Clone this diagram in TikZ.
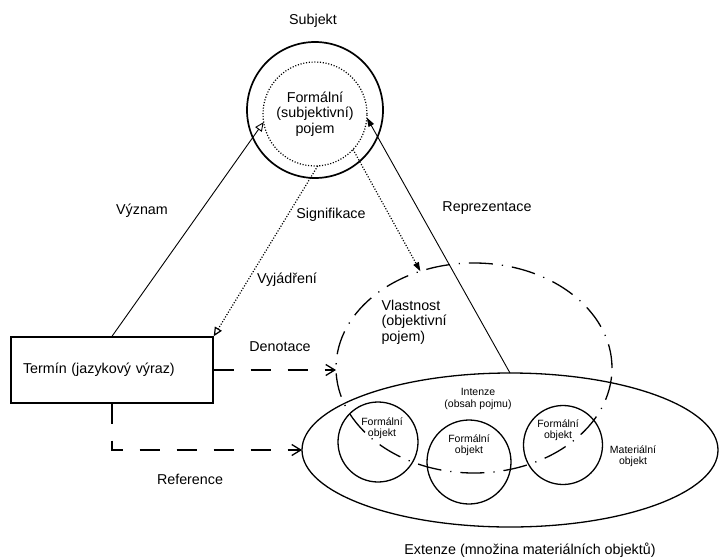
\documentclass[tikz,border=0pt]{standalone}
\usepackage{fontspec}
\setmainfont{Liberation Sans}
\usetikzlibrary{shapes.geometric, arrows.meta, positioning}

\begin{document}
\begin{tikzpicture}[x=1pt, y=-1pt,
    every node/.style={font=\fontsize{14.3}{15.5}\selectfont},
    small/.style={font=\fontsize{10.5}{11.5}\selectfont, align=center},
    ring/.style={draw, circle, inner sep=0pt, outer sep=0pt, line width=1.3pt},
    oval/.style={draw, ellipse, inner sep=0pt, outer sep=0pt},
    term/.style={draw, rectangle, line width=1.4pt, minimum width=202pt, minimum height=66pt, text width=178pt, align=left},
    dots/.style={line width=1.2pt, dash pattern=on 1.1pt off 1.7pt},
    dashline/.style={line width=1.3pt, dash pattern=on 20pt off 17pt},
    dashdot/.style={line width=1.3pt, dash pattern=on 24pt off 9pt on 1.2pt off 9pt},
    open/.style={-{Triangle[open, length=9pt, width=8pt]}},
    full/.style={-{Triangle[length=9pt, width=6pt]}},
    barb/.style={-{Straight Barb[length=9pt, width=11pt]}}]

    \useasboundingbox (0,0) rectangle (719,557);

    % subjekt
    \node (subjlbl) at (313,21) {Subjekt};
    \node[ring, line width=1.7pt, minimum size=136pt] (subj) at (315,110) {};
    \node[draw, circle, dots, minimum size=104pt, inner sep=0pt, outer sep=0pt, align=center] (formal) at (315,114) {Formální\\(subjektivní)\\pojem};

    % termin
    \node[term] (term) at (112,370) {Termín (jazykový výraz)};

    % extenze a vlastnost
    \node[oval, line width=1.3pt, minimum width=416pt, minimum height=154pt] (ext) at (510,450) {};
    \node[oval, dashdot, minimum width=276pt, minimum height=210pt] (vlast) at (474,368) {};
    \node[anchor=west, align=left] (vlastlbl) at (378,322) {Vlastnost\\(objektivní\\pojem)};

    \node[ring, minimum size=80pt] (objl) at (378,442) {};
    \node[ring, minimum size=84pt] (objm) at (469,462) {};
    \node[ring, minimum size=79pt] (objr) at (563,445) {};
    \node[small] (objltxt) at (382,428) {Formální\\objekt};
    \node[small] (objmtxt) at (469,445) {Formální\\objekt};
    \node[small] (objrtxt) at (558,430) {Formální\\objekt};
    \node[small] (intenze) at (478,399) {Intenze\\(obsah pojmu)};
    \node[small] (material) at (633,456) {Materiální\\objekt};
    \node (extlbl) at (530,550) {Extenze (množina materiálních objektů)};

    % vazby
    \draw[line width=0.9pt, open] (term.north) -- (formal.189);
    \draw[line width=0.9pt, full] (ext.north) -- (formal.356);
    \draw[dots, open] (formal.273) -- (term.north east);
    \draw[dots, full] (formal.317) -- (vlast.119);
    \draw[dashline, barb] (term.east) -- (term.east -| vlast.west);
    \draw[dashline, barb] (term.south) |- (ext.west);

    \node (vyznam) at (142,211) {Význam};
    \node (signif) at (331,215) {Signifikace};
    \node (vyjadr) at (287,280) {Vyjádření};
    \node (repre) at (487,208) {Reprezentace};
    \node (denot) at (280,347) {Denotace};
    \node (refer) at (190,479) {Reference};
\end{tikzpicture}
\end{document}
